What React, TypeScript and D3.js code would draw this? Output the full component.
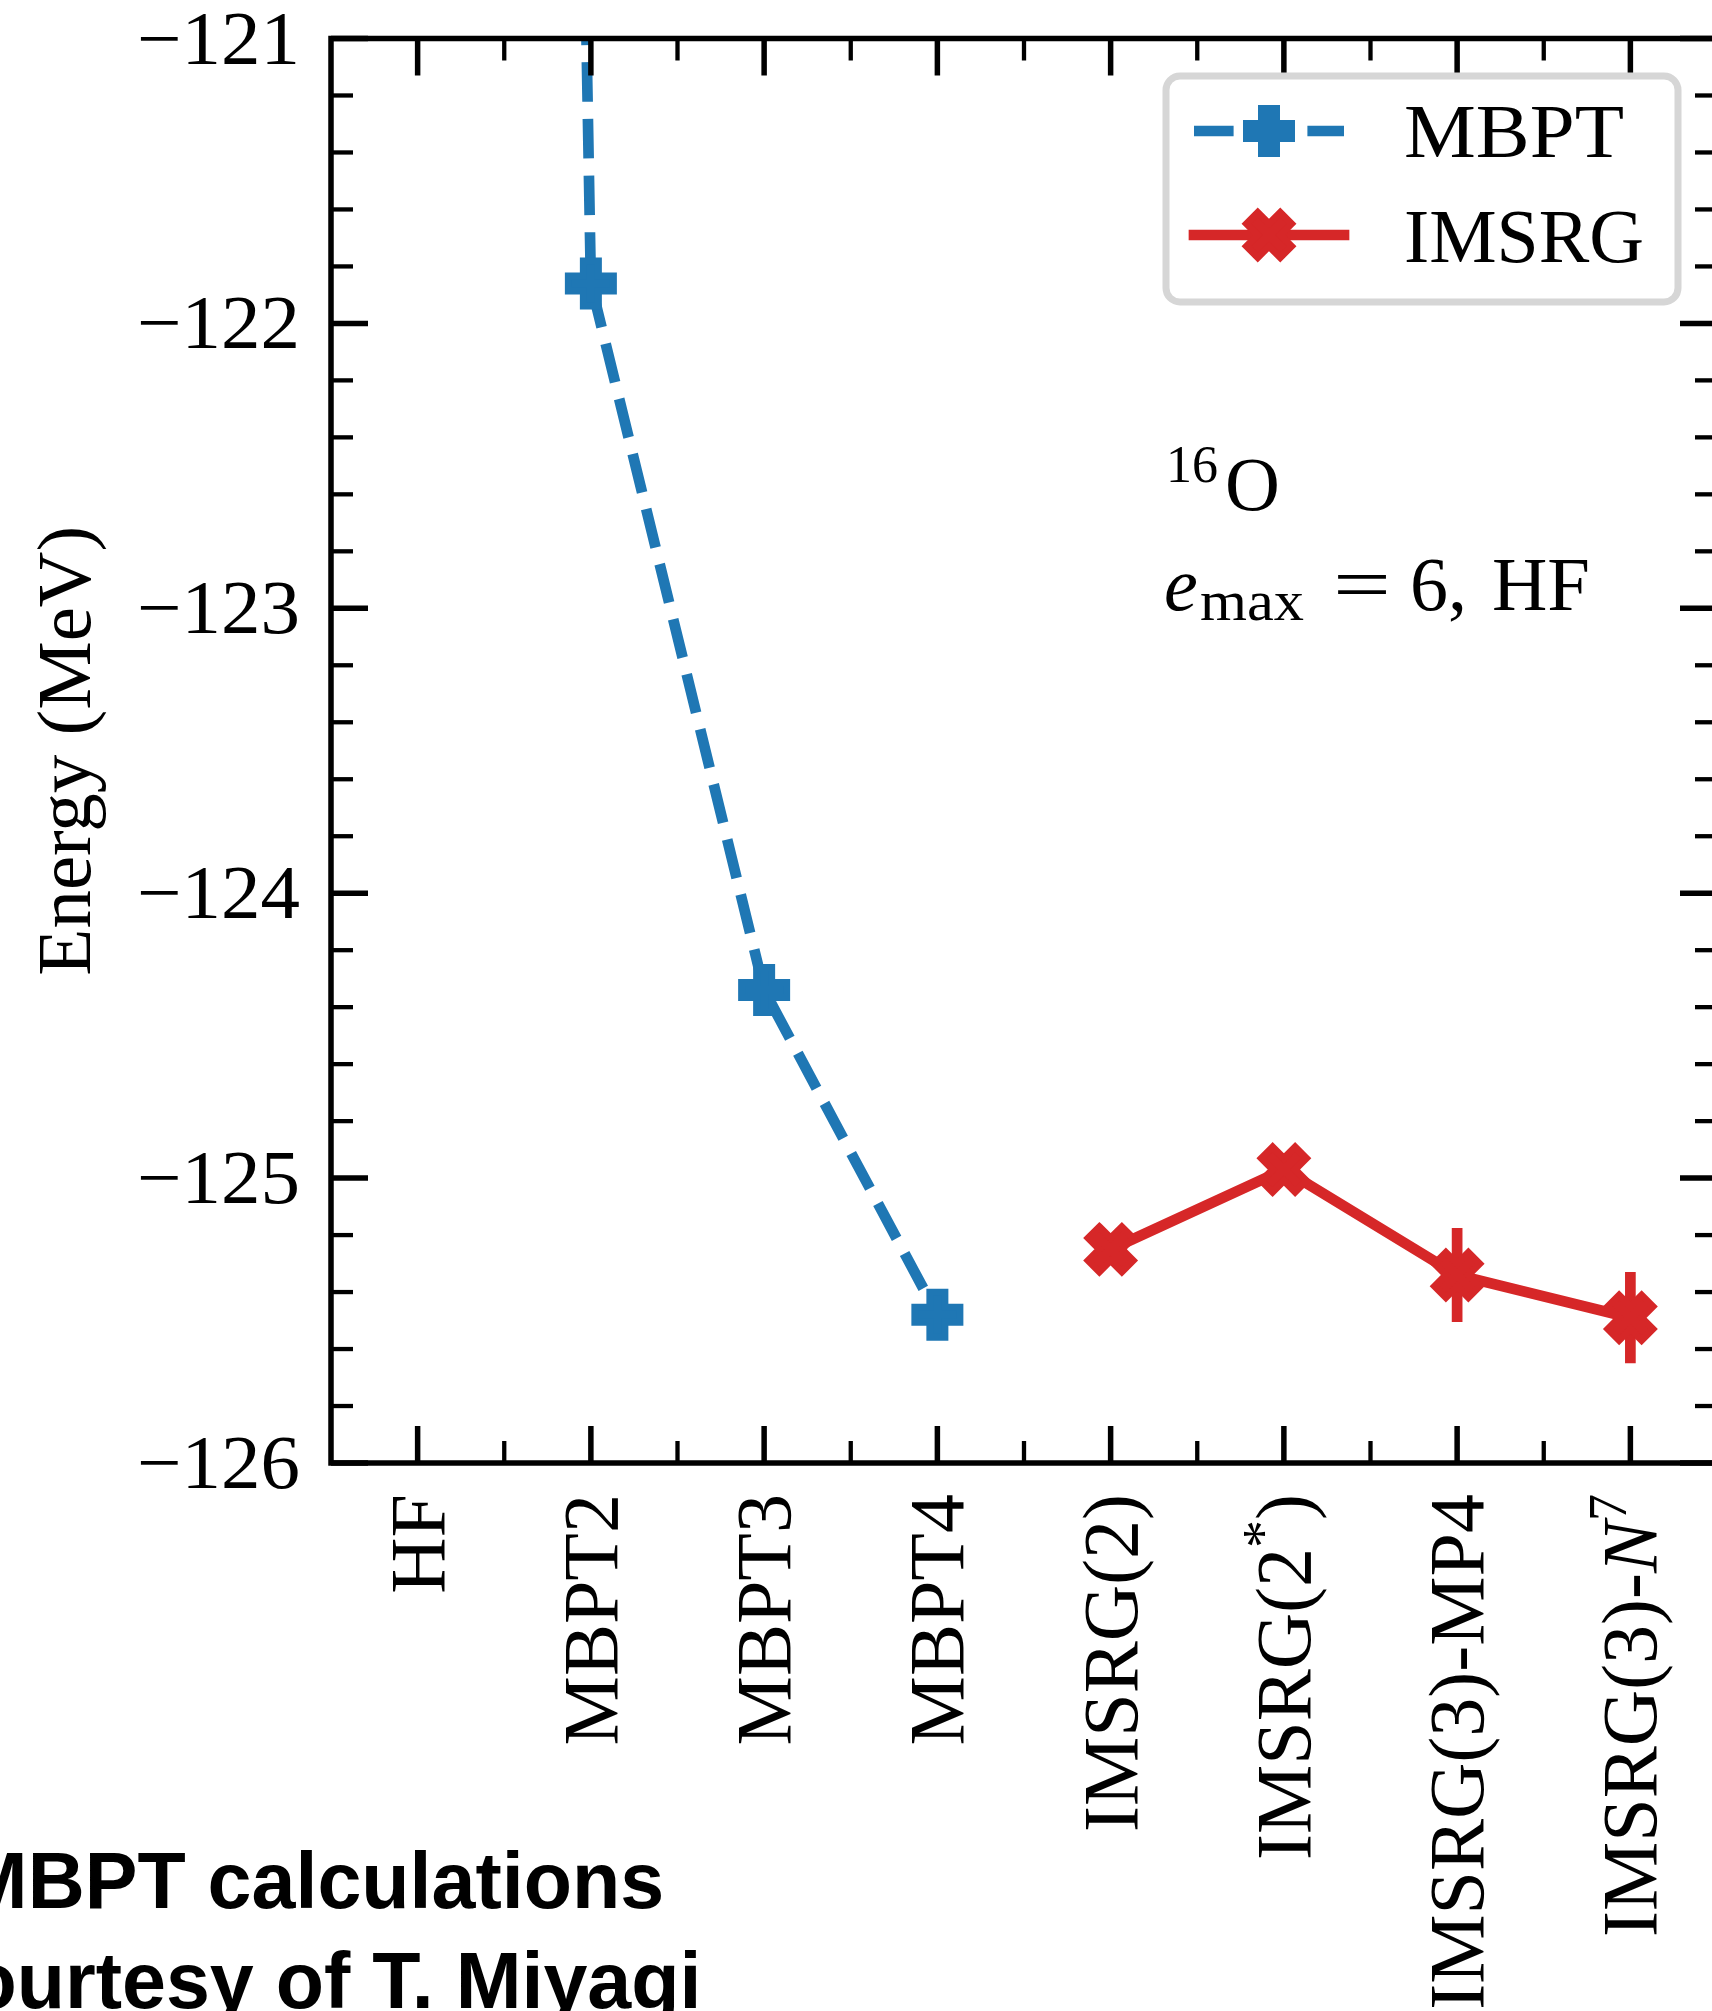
import React from "react";
import * as d3 from "d3";

// methods along the x axis (index = position)
const categories = [
  "HF",
  "MBPT2",
  "MBPT3",
  "MBPT4",
  "IMSRG(2)",
  "IMSRG(2*)",
  "IMSRG(3)-MP4",
  "IMSRG(3)-N7",
];

// MBPT series (HF point is far above the visible range)
const mbptIndex = [0, 1, 2, 3];
const mbptEnergy = [-88.0, -121.86, -124.34, -125.48];

// IMSRG series with error bars
const imsrgIndex = [4, 5, 6, 7];
const imsrgEnergy = [-125.25, -124.97, -125.34, -125.49];
const imsrgError = [0, 0, 0.165, 0.16];

const yTickValues = [-126, -125, -124, -123, -122, -121];

const W = 1712;
const H = 2011;
const plot = { left: 331, right: 1717, top: 38.5, bottom: 1463 };

const BLUE = "#1f77b4";
const RED = "#d62728";
const SERIF = "'Liberation Serif', 'DejaVu Serif', serif";
const LW = 10.7;
const DASH = [39.6, 17.1];

const plusPath = (s: number) => {
  const u = s / 6;
  const pts = [[-1, -3], [1, -3], [1, -1], [3, -1], [3, 1], [1, 1], [1, 3], [-1, 3], [-1, 1], [-3, 1], [-3, -1], [-1, -1]];
  return "M" + pts.map((p) => `${p[0] * u},${p[1] * u}`).join("L") + "Z";
};

const xFilledPath = (s: number) => {
  const u = s / 4;
  const pts = [[-1, -2], [0, -1], [1, -2], [2, -1], [1, 0], [2, 1], [1, 2], [0, 1], [-1, 2], [-2, 1], [-1, 0], [-2, -1]];
  return "M" + pts.map((p) => `${p[0] * u},${p[1] * u}`).join("L") + "Z";
};

const MS = 45; // marker size
const MEW = 7; // marker edge width

// tick label with LaTeX-ish pieces
const renderCategory = (c: string) => {
  if (c === "IMSRG(2*)") {
    return (
      <>
        IMSRG(2
        <tspan dy={-28} fontSize={56}>*</tspan>
        <tspan dy={28}>)</tspan>
      </>
    );
  }
  if (c === "IMSRG(3)-N7") {
    return (
      <>
        IMSRG(3)-
        <tspan fontStyle="italic">N</tspan>
        <tspan dy={-30} fontSize={54}>7</tspan>
      </>
    );
  }
  return c;
};

export default function App() {
  const x = d3.scaleLinear().domain([-0.5, 7.5]).range([plot.left, plot.right]);
  const y = d3.scaleLinear().domain([-126, -121]).range([plot.bottom, plot.top]);

  const line = d3
    .line<[number, number]>()
    .x((d) => x(d[0]))
    .y((d) => y(d[1]));

  const mbptPts: [number, number][] = mbptIndex.map((i, k) => [i, mbptEnergy[k]]);
  const imsrgPts: [number, number][] = imsrgIndex.map((i, k) => [i, imsrgEnergy[k]]);

  // phase the dash pattern so a dash ends just below the MBPT2 marker
  const L1 = Math.hypot(x(mbptIndex[1]) - x(mbptIndex[0]), y(mbptEnergy[1]) - y(mbptEnergy[0]));
  const period = DASH[0] + DASH[1];
  const dashOffset = ((((DASH[0] - L1 - 45) % period) + period) % period);

  const minorY = y.ticks(25).filter((v) => !yTickValues.some((t) => Math.abs(t - v) < 1e-6));
  const majorX = categories.map((_, i) => i);
  const minorX = categories.slice(0, -1).map((_, i) => i + 0.5);

  const MAJ = 37;
  const MIN = 22;

  return (
    <svg
      width={W}
      height={H}
      viewBox={`0 0 ${W} ${H}`}
      style={{ position: "absolute", left: 0, top: 0, display: "block", background: "#fff" }}
    >
      <defs>
        <clipPath id="plotClip">
          <rect x={plot.left} y={plot.top} width={plot.right - plot.left} height={plot.bottom - plot.top} />
        </clipPath>
      </defs>

      {/* data */}
      <g clipPath="url(#plotClip)">
        <path
          d={line(mbptPts) || ""}
          fill="none"
          stroke={BLUE}
          strokeWidth={LW}
          strokeDasharray={DASH.join(" ")}
          strokeDashoffset={dashOffset}
          strokeLinejoin="round"
        />
        <path d={line(imsrgPts) || ""} fill="none" stroke={RED} strokeWidth={LW} strokeLinejoin="round" strokeLinecap="square" />
        {imsrgIndex.map((i, k) =>
          imsrgError[k] > 0 ? (
            <line
              key={"e" + k}
              x1={x(i)}
              x2={x(i)}
              y1={y(imsrgEnergy[k] - imsrgError[k])}
              y2={y(imsrgEnergy[k] + imsrgError[k])}
              stroke={RED}
              strokeWidth={LW}
            />
          ) : null
        )}
        {mbptPts.map((d, k) => (
          <path
            key={"p" + k}
            d={plusPath(MS)}
            transform={`translate(${x(d[0])},${y(d[1])})`}
            fill={BLUE}
            stroke={BLUE}
            strokeWidth={MEW}
            strokeLinejoin="miter"
          />
        ))}
        {imsrgPts.map((d, k) => (
          <path
            key={"x" + k}
            d={xFilledPath(MS)}
            transform={`translate(${x(d[0])},${y(d[1])})`}
            fill={RED}
            stroke={RED}
            strokeWidth={MEW}
            strokeLinejoin="miter"
          />
        ))}
      </g>

      {/* ticks */}
      <g stroke="#000">
        {yTickValues.map((v) => (
          <g key={"yt" + v} strokeWidth={5.5}>
            <line x1={plot.left} x2={plot.left + MAJ} y1={y(v)} y2={y(v)} />
            <line x1={plot.right} x2={plot.right - MAJ} y1={y(v)} y2={y(v)} />
          </g>
        ))}
        {minorY.map((v) => (
          <g key={"ym" + v} strokeWidth={4.3}>
            <line x1={plot.left} x2={plot.left + MIN} y1={y(v)} y2={y(v)} />
            <line x1={plot.right} x2={plot.right - MIN} y1={y(v)} y2={y(v)} />
          </g>
        ))}
        {majorX.map((v) => (
          <g key={"xt" + v} strokeWidth={5.5}>
            <line x1={x(v)} x2={x(v)} y1={plot.bottom} y2={plot.bottom - MAJ} />
            <line x1={x(v)} x2={x(v)} y1={plot.top} y2={plot.top + MAJ} />
          </g>
        ))}
        {minorX.map((v) => (
          <g key={"xm" + v} strokeWidth={4.3}>
            <line x1={x(v)} x2={x(v)} y1={plot.bottom} y2={plot.bottom - MIN} />
            <line x1={x(v)} x2={x(v)} y1={plot.top} y2={plot.top + MIN} />
          </g>
        ))}
      </g>

      {/* frame */}
      <rect
        x={plot.left}
        y={plot.top}
        width={plot.right - plot.left}
        height={plot.bottom - plot.top}
        fill="none"
        stroke="#000"
        strokeWidth={5.5}
      />

      {/* y tick labels */}
      <g fontFamily={SERIF} fontSize={76} fill="#000">
        {yTickValues.map((v) => (
          <text
            key={"yl" + v}
            x={300}
            y={y(v) + 25}
            textAnchor="end"
            textLength={163}
            lengthAdjust="spacingAndGlyphs"
          >
            {"\u2212" + Math.abs(v)}
          </text>
        ))}
      </g>

      {/* x tick labels (rotated) */}
      <g fontFamily={SERIF} fontSize={78} fill="#000">
        {categories.map((c, i) => (
          <text
            key={"xl" + i}
            transform={`translate(${x(i)},${plot.bottom + 31}) rotate(-90)`}
            x={0}
            y={26}
            textAnchor="end"
          >
            {renderCategory(c)}
          </text>
        ))}
      </g>

      {/* y axis label */}
      <text
        transform={`translate(90,${(plot.top + plot.bottom) / 2}) rotate(-90)`}
        textAnchor="middle"
        fontFamily={SERIF}
        fontSize={77}
      >
        Energy (MeV)
      </text>

      {/* annotation */}
      <g fontFamily={SERIF} fill="#000">
        <text x={1166} y={482} fontSize={52}>16</text>
        <text x={1225} y={510} fontSize={76}>O</text>
        <text x={1164} y={610} fontSize={76} fontStyle="italic">e</text>
        <text x={1200} y={620} fontSize={56} textLength={104} lengthAdjust="spacingAndGlyphs">max</text>
        <text x={1333} y={610} fontSize={76} textLength={58} lengthAdjust="spacingAndGlyphs">=</text>
        <text x={1410} y={610} fontSize={76}>6,</text>
        <text x={1492} y={610} fontSize={76} textLength={98} lengthAdjust="spacingAndGlyphs">HF</text>
      </g>

      {/* legend */}
      <g>
        <rect x={1166} y={76} width={512} height={226} rx={14} ry={14} fill="#fff" fillOpacity={0.8} stroke="#d6d6d6" strokeWidth={7} />
        <line x1={1194} x2={1344} y1={131} y2={131} stroke={BLUE} strokeWidth={LW} strokeDasharray={DASH.join(" ")} />
        <path d={plusPath(MS)} transform="translate(1269,131)" fill={BLUE} stroke={BLUE} strokeWidth={MEW} />
        <line x1={1194} x2={1344} y1={235} y2={235} stroke={RED} strokeWidth={LW} strokeLinecap="square" />
        <path d={xFilledPath(MS)} transform="translate(1269,235)" fill={RED} stroke={RED} strokeWidth={MEW} />
        <g fontFamily={SERIF} fontSize={76} fill="#000">
          <text x={1404} y={157} textLength={220} lengthAdjust="spacingAndGlyphs">MBPT</text>
          <text x={1404} y={262} textLength={240} lengthAdjust="spacingAndGlyphs">IMSRG</text>
        </g>
      </g>

      {/* credit */}
      <g fontFamily="'Liberation Sans', Arial, sans-serif" fontWeight="bold" fontSize={79} fill="#000" textAnchor="middle">
        <text x={313} y={1908}>MBPT calculations</text>
        <text x={313} y={2008}>courtesy of T. Miyagi</text>
      </g>
    </svg>
  );
}
